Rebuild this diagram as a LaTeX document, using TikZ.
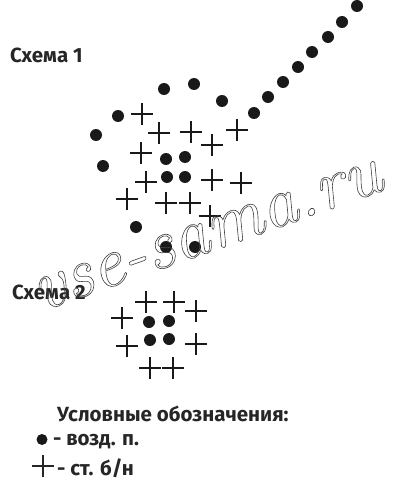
\documentclass[tikz,border=0pt]{standalone}
\usepackage{fontspec}
\newfontfamily\ptsans{Fira Sans}
\tikzset{
  dotc/.style={circle, fill=black!90, draw=none, inner sep=0pt, minimum size=12pt},
  pl/.pic={\draw[line width=2.8pt, black!90] (-11,0) -- (11,0) (0,-11) -- (0,11);},
  lbl/.style={anchor=west, inner sep=0pt, text=black!85, font=\ptsans\bfseries\fontsize{20.5}{24}\selectfont},
}
\begin{document}
\begin{tikzpicture}[x=1pt,y=-1pt]
\fill[white] (0,0) rectangle (402,492);
\useasboundingbox (0,0) rectangle (402,492);
% titles
\node[lbl] (s1) at (10,55) {Схема 1};
\node[lbl] (s2) at (12,292) {Схема 2};
% scheme 1 dots
\foreach \x/\y [count=\i] in {357/6,342/22,328/37,312/52,298/67,283/82,268/97,254/113,
  164/89,194/84,222/101,118/116,96/135,103/166,166/159,185/157,167/177,185/177,136/227,166/247,195/247}
  \node[dotc] (d\i) at (\x,\y) {};
% scheme 1 pluses
\foreach \x/\y in {142/114,159/133,191/132,212/145,237/130,141/153,146/182,212/180,241/183,127/199,166/203,190/203,210/216}
  \pic at (\x,\y) {pl};
% scheme 2 dots
\foreach \x/\y [count=\i] in {149/322,169/321,150/340,169/339}
  \node[dotc] (e\i) at (\x,\y) {};
% scheme 2 pluses
\foreach \x/\y in {146/302,174/302,196/311,122/318,127/346,196/344,150/368,173/368}
  \pic at (\x,\y) {pl};
% legend
\node[lbl] (lt) at (57,414) {Условные обозначения:};
\node[circle, fill=black!90, inner sep=0pt, minimum size=11pt] (ld) at (42,439.5) {};
\node[lbl] (l1) at (53,442) {- возд. п.};
\draw[line width=2pt, black!85] (32,465.5) -- (54,465.5) (43,454.5) -- (43,476.5);
\node[lbl] (l2) at (57,468) {- ст. б/н};
% watermark
\node[rotate=19.5, inner sep=0pt, black!75] (wm) at (208,236)
  {\fontsize{72}{72}\selectfont\itshape\special{pdf:literal q 1 Tr 0.6 w}vse-sama.ru\special{pdf:literal Q}};
\end{tikzpicture}
\end{document}
